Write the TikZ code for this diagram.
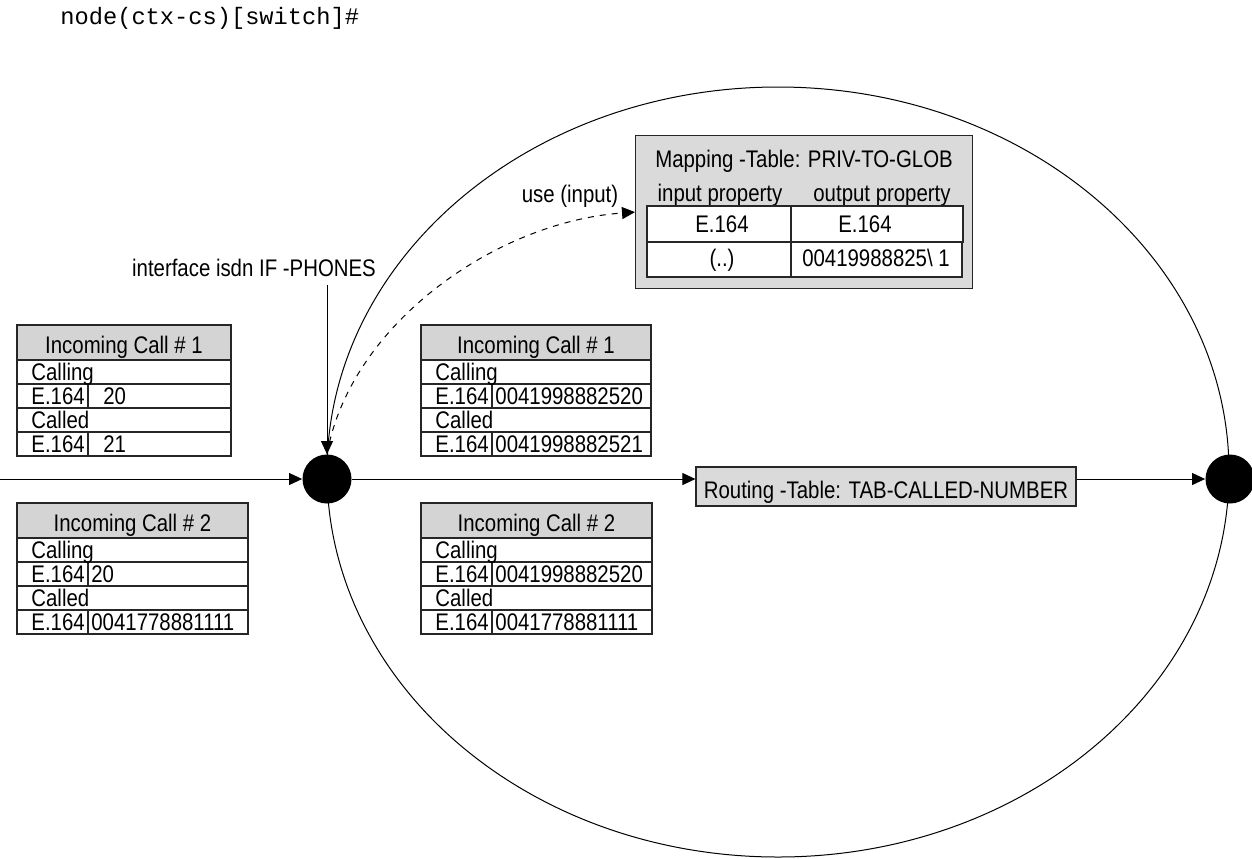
\documentclass[tikz,border=0pt]{standalone}
\usepackage{fontspec}
\setmainfont{Liberation Sans}[FakeStretch=0.85]
\newfontfamily\codefont{Liberation Mono}
\usetikzlibrary{arrows.meta, positioning, calc}

\definecolor{hdrgray}{RGB}{212,212,212}
\definecolor{boxgray}{RGB}{218,218,218}
\tikzset{>={Triangle[length=6.5pt,width=6pt]}}

% Tabelle eines Rufs: Kopf + 4 Zeilen
% #1 Name, #2 x (links), #3 y (oben), #4 Breite, #5 Titel, #6 Calling-Nr., #7 Called-Nr.
\newcommand{\calltable}[7]{%
  \draw[cell,fill=hdrgray] (#2,#3) rectangle ++(#4,35);
  \node[hdrtext] (#1-title) at ($(#2,#3)+(#4/2,28)$) {#5};
  \foreach \rowi in {0,...,3}
    \draw[cell] ($(#2,#3)+(0,35+24*\rowi)$) rectangle ++(#4,24);
  \draw[cell] ($(#2,#3)+(\celldiv,59)$) -- ++(0,24);
  \draw[cell] ($(#2,#3)+(\celldiv,107)$) -- ++(0,24);
  \node[rowtext] (#1-calling)   at ($(#2,#3)+(\cellpad,55)$)    {Calling};
  \node[rowtext] (#1-etype1)    at ($(#2,#3)+(\cellpad,79)$)    {E.164};
  \node[rowtext] (#1-callingno) at ($(#2,#3)+(\celldiv+3,79)$)  {#6};
  \node[rowtext] (#1-called)    at ($(#2,#3)+(\cellpad,103)$)   {Called};
  \node[rowtext] (#1-etype2)    at ($(#2,#3)+(\cellpad,127)$)   {E.164};
  \node[rowtext] (#1-calledno)  at ($(#2,#3)+(\celldiv+3,127)$) {#7};
}

\begin{document}
\begin{tikzpicture}[x=0.5pt,y=-0.5pt]

   %%%%%%%%%%%%%%%%%%%%%%%%%%%%%%%%%%%%%%%%%%%%%%%%%%%%%%%%%%%%%%%%%%%%%%
   % Parameter
   %%%%%%%%%%%%%%%%%%%%%%%%%%%%%%%%%%%%%%%%%%%%%%%%%%%%%%%%%%%%%%%%%%%%%%
   \def\celldiv{71}
   \def\cellpad{14}

   % Stile
   \tikzset{
      txt/.style={inner sep=0pt, font=\fontsize{12}{14}\selectfont},
      cell/.style={line width=0.6pt, draw=black!85},
      hdrtext/.style={txt, anchor=base},
      rowtext/.style={txt, anchor=base west},
      switchdot/.style={circle, fill=black, minimum size=24.5pt, inner sep=0pt},
      flow/.style={->, line width=0.5pt},
      routebox/.style={cell, fill=boxgray, font=\fontsize{12}{14}\selectfont,
         minimum width=190pt, inner ysep=0pt, text height=15.5pt, text depth=4pt},
      mapbox/.style={cell, fill=boxgray, anchor=north west, inner sep=0pt,
         minimum width=168.5pt, minimum height=76.5pt}
   }

   \useasboundingbox (0,0) rectangle (1252,858);

   \node[anchor=base west, inner sep=0pt, font=\codefont\fontsize{11.85}{14}\selectfont]
      (title) at (60,24) {node(ctx-cs)[switch]\#};

   %%%%%%%%%%%%%%%%%%%%%%%%%%%%%%%%%%%%%%%%%%%%%%%%%%%%%%%%%%%%%%%%%%%%%%
   % Kontext (Ellipse) und Knoten
   %%%%%%%%%%%%%%%%%%%%%%%%%%%%%%%%%%%%%%%%%%%%%%%%%%%%%%%%%%%%%%%%%%%%%%
   \draw[line width=0.5pt] (778,472) ellipse [x radius=451, y radius=385];

   \node[switchdot] (sw1) at (327,479) {};
   \node[switchdot] (sw2) at (1230,479) {};
   \node[routebox] (route) at (886,486.5) {Routing -Table: TAB-CALLED-NUMBER};

   \coordinate (in) at (0,479);
   \draw[flow] (in) -- (sw1);
   \draw[flow] (sw1) -- (sw1 -| route.west);
   \draw[flow] (route.east |- sw2) -- (sw2);

   % Interface
   \node[txt, anchor=base] (ifname) at (254,276) {interface isdn IF -PHONES};
   \coordinate (iftop) at ($(ifname.south -| sw1.north)+(0,8)$);
   \draw[flow] (iftop) -- (sw1.north);

   %%%%%%%%%%%%%%%%%%%%%%%%%%%%%%%%%%%%%%%%%%%%%%%%%%%%%%%%%%%%%%%%%%%%%%
   % Mapping-Tabelle
   %%%%%%%%%%%%%%%%%%%%%%%%%%%%%%%%%%%%%%%%%%%%%%%%%%%%%%%%%%%%%%%%%%%%%%
   \node[mapbox] (map) at (635,135) {};
   \node[hdrtext] (maptitle) at (804,167) {Mapping -Table: PRIV-TO-GLOB};
   \node[hdrtext] (inprop)   at (720,201) {input property};
   \node[hdrtext] (outprop)  at (882,201) {output property};

   \draw[cell,fill=white] (647,206) rectangle (791,242);
   \draw[cell,fill=white] (791,206) rectangle (963,242);
   \draw[cell,fill=white] (647,242) rectangle (791,277);
   \draw[cell,fill=white] (791,242) rectangle (962,277);

   \node[hdrtext] (inval1)  at (722,232) {E.164};
   \node[hdrtext] (outval1) at (865,232) {E.164};
   \node[hdrtext] (inval2)  at (722,266) {(..)};
   \node[hdrtext] (outval2) at (876,266) {00419988825\textbackslash\ 1};

   % use (input), gestrichelt
   \node[txt, anchor=base] (uselbl) at (570,202) {use (input)};
   \draw[flow,dashed] (sw1.north) .. controls (350,325) and (495,222) .. (map.west);

   %%%%%%%%%%%%%%%%%%%%%%%%%%%%%%%%%%%%%%%%%%%%%%%%%%%%%%%%%%%%%%%%%%%%%%
   % Rufe vor und nach dem Interface
   %%%%%%%%%%%%%%%%%%%%%%%%%%%%%%%%%%%%%%%%%%%%%%%%%%%%%%%%%%%%%%%%%%%%%%
   \calltable{inA}{17}{325}{214}{Incoming Call \# 1}{\hspace{6pt}20}{\hspace{6pt}21}
   \calltable{inB}{17}{503}{231}{Incoming Call \# 2}{20}{0041778881111}
   \calltable{outA}{421}{325}{230}{Incoming Call \# 1}{0041998882520}{0041998882521}
   \calltable{outB}{421}{503}{231}{Incoming Call \# 2}{0041998882520}{0041778881111}

\end{tikzpicture}
\end{document}
